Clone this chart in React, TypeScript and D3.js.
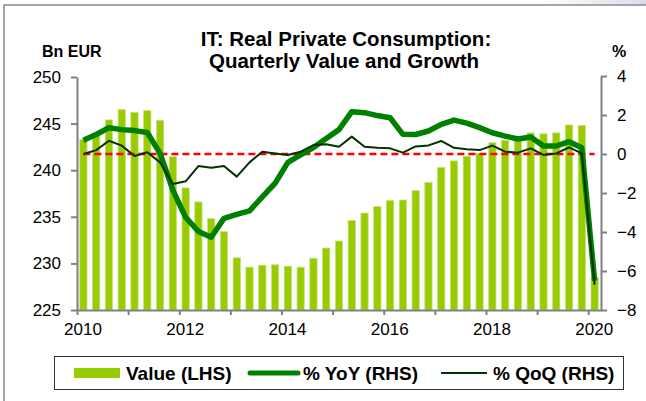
import React, { useEffect, useRef } from "react";
import * as d3 from "d3";

// quarterly data, 2010Q1 .. 2020Q1
const quarters = d3.range(41).map((i) => `${2010 + Math.floor(i / 4)}Q${(i % 4) + 1}`);

// real private consumption, Bn EUR (LHS)
const value = [
  243.3, 243.9, 245.4, 246.5, 246.2, 246.4, 245.35, 241.45, 238.1, 236.6, 234.8, 233.4, 230.6, 229.6,
  229.8, 229.85, 229.7, 229.6, 230.55, 231.65, 232.4, 234.6, 235.4, 236.1, 236.75, 236.8, 237.8, 238.7,
  240.3, 241.0, 241.5, 241.8, 242.95, 243.2, 243.4, 244.0, 243.9, 244.0, 244.85, 244.8, 228.5,
];

// % YoY (RHS)
const yoy = [
  0.7, 1.0, 1.35, 1.25, 1.2, 1.1, 0.03, -1.85, -3.25, -3.97, -4.27, -3.3, -3.1, -2.92, -2.2, -1.5, -0.43,
  -0.05, 0.33, 0.8, 1.25, 2.17, 2.12, 1.97, 1.86, 1.01, 1.0, 1.18, 1.52, 1.74, 1.58, 1.35, 1.09, 0.92, 0.77,
  0.87, 0.41, 0.41, 0.63, 0.32, -6.5,
];

// % QoQ (RHS)
const qoq = [
  0.0, 0.2, 0.68, 0.43, -0.1, 0.09, -0.43, -1.54, -1.4, -0.62, -0.7, -0.62, -1.16, -0.43, 0.12, 0.03, -0.05,
  0.12, 0.46, 0.5, 0.37, 0.89, 0.37, 0.32, 0.29, 0.07, 0.39, 0.44, 0.67, 0.32, 0.24, 0.2, 0.43, 0.12, 0.07,
  0.29, -0.05, 0.03, 0.34, 0.03, -6.7,
];

const leftTicks = [225, 230, 235, 240, 245, 250];
const rightTicks = [-8, -6, -4, -2, 0, 2, 4];
const yearTicks = d3.range(2010, 2021);

const FONT = "'Liberation Sans', Arial, sans-serif";
const BAR = "#99cc00";
const YOY = "#008000";
const QOQ = "#003300";
const AXIS = "#808080";

export default function App() {
  const ref = useRef<SVGSVGElement>(null);

  useEffect(() => {
    drawChart();
  }, []);

  function drawChart() {
    const svg = d3.select(ref.current);
    svg.selectAll("*").remove();

    const plot = { left: 77, right: 601, top: 77, bottom: 310 };

    const x = d3.scaleBand().domain(quarters).range([plot.left, plot.right]).paddingInner(0.43).paddingOuter(0.215);
    const xYear = d3.scaleLinear().domain([2010, 2010 + quarters.length / 4]).range([plot.left, plot.right]);
    const yL = d3.scaleLinear().domain([225, 250]).range([plot.bottom, plot.top]);
    const yR = d3.scaleLinear().domain([-8, 4]).range([plot.bottom, plot.top - 1]);
    const cx = (i: number) => x(quarters[i])! + x.bandwidth() / 2;

    // frame
    const defs = svg.append("defs");
    const grad = defs.append("linearGradient").attr("id", "corner").attr("x1", 0).attr("x2", 1);
    grad.append("stop").attr("offset", 0).attr("stop-color", "#ffffff");
    grad.append("stop").attr("offset", 1).attr("stop-color", "#d9dee8");
    svg.append("rect").attr("x", 540).attr("y", 0).attr("width", 106).attr("height", 5).attr("fill", "url(#corner)");
    svg.append("path").attr("d", "M4,401V5H646").attr("fill", "none").attr("stroke", "#8a8a8a").attr("stroke-width", 1.5);

    // bars
    svg
      .append("g")
      .selectAll("rect")
      .data(value)
      .join("rect")
      .attr("x", (d, i) => x(quarters[i])!)
      .attr("y", (d) => yL(d))
      .attr("width", x.bandwidth())
      .attr("height", (d) => yL(225) - yL(d))
      .attr("fill", BAR)
      .attr("stroke", "#c4e27a")
      .attr("stroke-width", 0.8);

    // zero line
    svg
      .append("line")
      .attr("x1", cx(0))
      .attr("x2", cx(quarters.length - 1))
      .attr("y1", yR(0))
      .attr("y2", yR(0))
      .attr("stroke", "#ff0000")
      .attr("stroke-width", 2.5)
      .attr("stroke-dasharray", "7,4");

    const line = d3
      .line<number>()
      .x((d, i) => cx(i))
      .y((d) => yR(d));

    svg.append("path").datum(yoy).attr("d", line).attr("fill", "none").attr("stroke", YOY).attr("stroke-width", 5.5).attr("stroke-linejoin", "round");
    svg.append("path").datum(qoq).attr("d", line).attr("fill", "none").attr("stroke", QOQ).attr("stroke-width", 2).attr("stroke-linejoin", "round");

    // axes
    const styleAxis = (g: any) => {
      g.selectAll("path, line").attr("stroke", AXIS).attr("stroke-width", 2);
      g.selectAll("text").attr("font-family", FONT).attr("font-size", 17).attr("fill", "#000");
    };

    svg
      .append("g")
      .attr("transform", `translate(${plot.left},0)`)
      .call(d3.axisLeft(yL).tickValues(leftTicks).tickSize(6).tickSizeOuter(0).tickPadding(10))
      .call(styleAxis);

    svg
      .append("g")
      .attr("transform", `translate(${plot.right},0)`)
      .call(d3.axisRight(yR).tickValues(rightTicks).tickSize(6).tickSizeOuter(0).tickPadding(10))
      .call(styleAxis);

    const xAxis = svg
      .append("g")
      .attr("transform", `translate(0,${plot.bottom})`)
      .call(
        d3
          .axisBottom(xYear)
          .tickValues(yearTicks)
          .tickSize(5)
          .tickSizeOuter(0)
          .tickPadding(8)
          .tickFormat((d: any) => (d % 2 === 0 ? String(d) : ""))
      )
      .call(styleAxis);
    xAxis.selectAll("text").attr("dx", 5.5);

    // titles
    const title = svg.append("text").attr("font-family", FONT).attr("font-weight", "bold").attr("font-size", 20.5).attr("text-anchor", "middle");
    title.append("tspan").attr("x", 346).attr("y", 46).text("IT: Real Private Consumption:");
    title.append("tspan").attr("x", 344).attr("y", 68).text("Quarterly Value and Growth");

    svg.append("text").attr("x", 42).attr("y", 57).attr("font-family", FONT).attr("font-weight", "bold").attr("font-size", 16).text("Bn EUR");
    svg.append("text").attr("x", 612).attr("y", 57).attr("font-family", FONT).attr("font-weight", "bold").attr("font-size", 16).text("%");

    // legend
    const lg = svg.append("g");
    lg.append("rect").attr("x", 54.5).attr("y", 356.5).attr("width", 569).attr("height", 33).attr("fill", "#fff").attr("stroke", "#333").attr("stroke-width", 1);
    const ly = 373;
    lg.append("rect").attr("x", 74).attr("y", ly - 5).attr("width", 46).attr("height", 10).attr("fill", BAR);
    lg.append("line").attr("x1", 250).attr("x2", 298).attr("y1", ly).attr("y2", ly).attr("stroke", YOY).attr("stroke-width", 5).attr("stroke-linecap", "round");
    lg.append("line").attr("x1", 441).attr("x2", 487).attr("y1", ly).attr("y2", ly).attr("stroke", QOQ).attr("stroke-width", 2);
    const labels: [number, string][] = [
      [126, "Value (LHS)"],
      [303, "% YoY (RHS)"],
      [493, "% QoQ (RHS)"],
    ];
    labels.forEach(([lx, t]) =>
      lg.append("text").attr("x", lx).attr("y", ly + 7).attr("font-family", FONT).attr("font-weight", "bold").attr("font-size", 19).text(t)
    );
  }

  return <svg ref={ref} width={646} height={401} style={{ position: "absolute", left: 0, top: 0, background: "#fff" }} />;
}
